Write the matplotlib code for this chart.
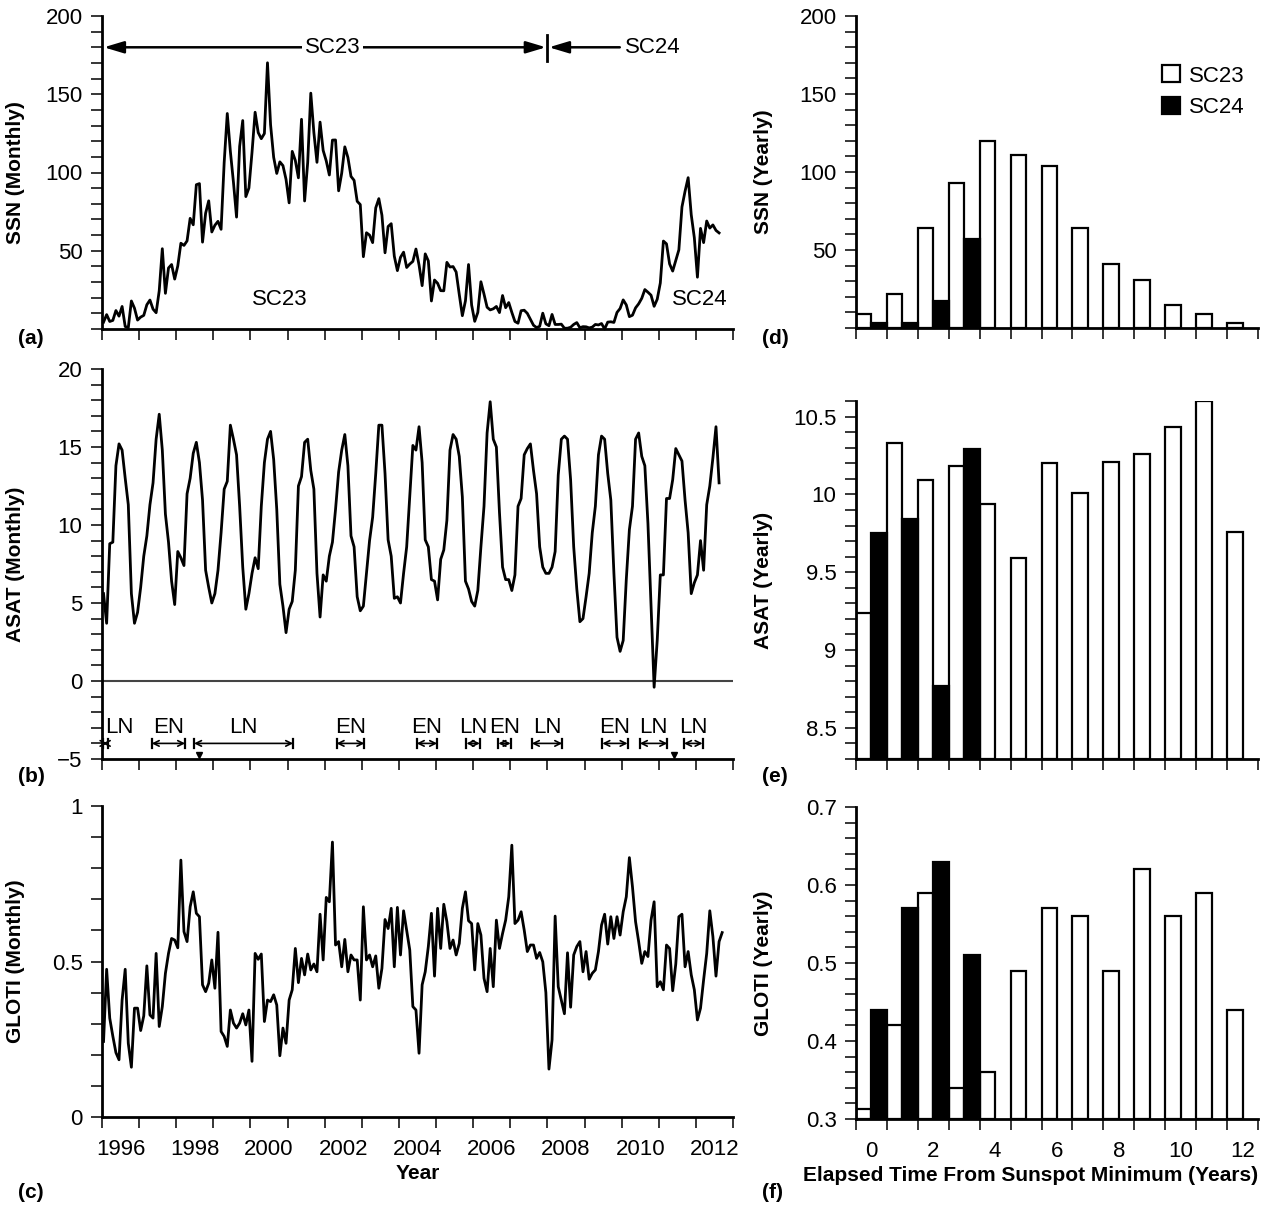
import matplotlib
matplotlib.use('Agg')
import matplotlib.pyplot as plt
from matplotlib import font_manager
from matplotlib.ticker import MultipleLocator
from matplotlib.patches import Patch
import numpy as np

installed = {f.name for f in font_manager.fontManager.ttflist}
if 'Liberation Sans Narrow' in installed:
    plt.rcParams['font.family'] = ['Liberation Sans Narrow', 'DejaVu Sans']
    FS, FSL = 17, 17
else:
    plt.rcParams['font.family'] = ['Liberation Sans', 'DejaVu Sans']
    FS, FSL = 16, 15

# ---- monthly series (from Feb 1996) ----
ssn_monthly = [
    4.4, 9.2, 4.8, 5.5, 11.8, 8.2, 14.4, 1.6, 0.9, 17.9, 13.3,
    5.7, 7.6, 8.7, 15.5, 18.5, 12.7, 10.4, 24.4, 51.3, 22.8, 39.0, 41.2,
    31.9, 40.3, 54.8, 53.4, 56.3, 70.7, 66.6, 92.2, 92.9, 55.5, 74.0, 81.9,
    62.0, 66.3, 68.8, 63.7, 106.4, 137.7, 113.5, 93.7, 71.5, 116.7, 133.2, 84.6,
    90.1, 112.9, 138.5, 125.5, 121.6, 124.9, 170.1, 130.5, 109.7, 99.4, 106.8, 104.4,
    95.6, 80.6, 113.5, 107.7, 96.6, 134.0, 81.8, 106.4, 150.7, 125.5, 106.5, 132.2,
    114.1, 107.4, 98.4, 120.7, 120.8, 88.3, 99.6, 116.4, 109.6, 97.5, 95.0, 81.6,
    79.5, 46.2, 61.5, 60.0, 55.2, 77.4, 83.3, 72.7, 48.7, 65.5, 67.3, 46.5,
    37.3, 45.8, 49.1, 39.3, 41.5, 43.2, 51.1, 40.9, 27.7, 48.0, 43.5, 17.9,
    31.3, 29.2, 24.5, 24.4, 42.6, 39.6, 39.9, 36.4, 22.1, 8.5, 18.0, 41.2,
    15.3, 4.9, 10.6, 30.2, 22.3, 13.9, 12.2, 12.9, 14.4, 10.5, 21.4, 13.6,
    16.9, 10.6, 4.8, 3.7, 11.7, 12.0, 10.0, 6.2, 2.4, 0.9, 1.7, 10.1,
    3.3, 2.1, 9.3, 2.9, 2.9, 3.1, 0.5, 0.5, 1.1, 2.9, 4.1, 0.8,
    1.5, 1.4, 0.7, 1.2, 2.9, 2.6, 3.5, 0.0, 4.4, 4.6, 4.2, 10.6,
    13.1, 18.6, 15.4, 7.9, 8.8, 13.5, 16.1, 19.6, 25.2, 23.5, 21.6, 14.5,
    19.0, 29.4, 56.2, 54.4, 41.6, 37.0, 43.9, 50.6, 78.0, 88.0, 96.7, 73.0,
    58.3, 33.1, 64.3, 55.2, 69.0, 64.5, 66.5, 63.0, 61.4,
]

asat_monthly = [
    5.6, 3.7, 8.8, 8.9, 13.8, 15.2, 14.8, 13.0, 11.3, 5.6, 3.7, 4.4,
    6.0, 8.0, 9.3, 11.3, 12.7, 15.5, 17.1, 14.8, 10.7, 8.9, 6.4, 4.9,
    8.3, 7.9, 7.4, 12.0, 13.0, 14.6, 15.3, 14.0, 11.6, 7.1, 6.0, 5.0,
    5.6, 7.1, 9.5, 12.3, 12.8, 16.4, 15.5, 14.5, 11.2, 7.3, 4.6, 5.6,
    6.9, 7.9, 7.2, 11.2, 14.0, 15.5, 16.0, 14.2, 11.0, 6.2, 4.8, 3.1,
    4.6, 5.1, 7.1, 12.5, 13.1, 15.3, 15.5, 13.5, 12.3, 6.9, 4.1, 6.8,
    6.4, 8.0, 8.9, 11.0, 13.4, 14.8, 15.8, 13.8, 9.3, 8.6, 5.4, 4.5,
    4.8, 6.9, 9.0, 10.5, 13.3, 16.4, 16.4, 13.3, 9.05, 8.0, 5.3, 5.4,
    5.0, 6.9, 8.6, 11.8, 15.1, 14.8, 16.3, 14.0, 9.05, 8.6, 6.5, 6.4,
    5.2, 7.8, 8.4, 10.3, 14.8, 15.8, 15.5, 14.4, 11.8, 6.4, 5.9, 5.1,
    4.8, 5.8, 8.6, 11.2, 15.9, 17.9, 15.5, 15.0, 10.8, 7.3, 6.5, 6.5,
    5.8, 6.8, 11.2, 11.7, 14.5, 14.9, 15.2, 13.5, 12.0, 8.6, 7.3, 6.9,
    6.9, 7.3, 8.3, 13.2, 15.5, 15.7, 15.5, 12.9, 8.6, 5.9, 3.8, 4.0,
    5.4, 6.9, 9.5, 11.2, 14.5, 15.7, 15.5, 13.3, 11.6, 6.9, 2.8, 1.9,
    2.6, 6.5, 9.7, 11.2, 15.5, 15.9, 14.4, 13.8, 10.1, 4.8, -0.4, 2.6,
    6.8, 6.8, 11.7, 11.7, 12.9, 14.9, 14.5, 14.1, 11.6, 9.5, 5.6, 6.3,
    6.8, 9.0, 7.1, 11.3, 12.5, 14.3, 16.3, 12.7,
]

gloti_monthly = [
    0.243, 0.475, 0.318, 0.26, 0.207, 0.184, 0.376, 0.475, 0.237, 0.16, 0.35, 0.35,
    0.278, 0.325, 0.486, 0.328, 0.318, 0.526, 0.291, 0.355, 0.462, 0.526, 0.574, 0.569,
    0.544, 0.826, 0.596, 0.564, 0.676, 0.724, 0.655, 0.644, 0.425, 0.403, 0.430, 0.505,
    0.414, 0.594, 0.275, 0.259, 0.227, 0.344, 0.302, 0.286, 0.302, 0.332, 0.296, 0.344,
    0.179, 0.526, 0.507, 0.524, 0.307, 0.376, 0.371, 0.393, 0.360, 0.197, 0.286, 0.237,
    0.376, 0.409, 0.542, 0.432, 0.510, 0.457, 0.524, 0.473, 0.492, 0.467, 0.652, 0.505,
    0.706, 0.692, 0.884, 0.553, 0.564, 0.483, 0.571, 0.467, 0.521, 0.505, 0.505, 0.376,
    0.676, 0.505, 0.521, 0.483, 0.518, 0.414, 0.478, 0.635, 0.606, 0.671, 0.483, 0.674,
    0.521, 0.663, 0.601, 0.537, 0.355, 0.344, 0.205, 0.425, 0.467, 0.548, 0.655, 0.453,
    0.671, 0.542, 0.684, 0.628, 0.542, 0.569, 0.521, 0.558, 0.671, 0.724, 0.631, 0.622,
    0.473, 0.622, 0.585, 0.446, 0.403, 0.542, 0.419, 0.633, 0.542, 0.590, 0.633, 0.708,
    0.874, 0.622, 0.633, 0.660, 0.601, 0.532, 0.553, 0.553, 0.510, 0.529, 0.499, 0.400,
    0.154, 0.248, 0.646, 0.419, 0.376, 0.332, 0.528, 0.353, 0.521, 0.548, 0.564, 0.467,
    0.532, 0.443, 0.462, 0.473, 0.532, 0.617, 0.652, 0.556, 0.644, 0.574, 0.644, 0.585,
    0.660, 0.708, 0.834, 0.740, 0.628, 0.564, 0.494, 0.532, 0.516, 0.633, 0.692, 0.419,
    0.435, 0.409, 0.553, 0.542, 0.406, 0.492, 0.644, 0.652, 0.483, 0.532, 0.457, 0.409,
    0.312, 0.350, 0.441, 0.526, 0.663, 0.580, 0.453, 0.564, 0.593,
]

year_labels = ['1996', '1998', '2000', '2002', '2004', '2006', '2008', '2010', '2012']

# ENSO episodes (type, start, end) in decimal years
enso_events = [
    ('LN', 1996.02, 1996.15), ('EN', 1997.34, 1998.24), ('LN', 1998.48, 2001.15),
    ('EN', 2002.32, 2003.07), ('EN', 2004.48, 2005.03), ('LN', 2005.82, 2006.18),
    ('EN', 2006.68, 2007.01), ('LN', 2007.58, 2008.40), ('EN', 2009.48, 2010.16),
    ('LN', 2010.49, 2011.23), ('LN', 2011.68, 2012.18),
]
enso_marks = [1998.6, 2011.41]
cycle_boundary = 2008.0

# ---- yearly values vs elapsed time from sunspot minimum ----
elapsed_sc23 = list(range(13))
elapsed_sc24 = list(range(4))
ssn_sc23 = [9, 22, 64, 93, 120, 111, 104, 64, 41, 31, 15, 9, 3]
ssn_sc24 = [3, 3, 17, 57]
asat_sc23 = [9.24, 10.33, 10.09, 10.18, 9.94, 9.59, 10.20, 10.01, 10.21, 10.26, 10.43, 10.60, 9.76]
asat_sc24 = [9.75, 9.84, 8.77, 10.29]
gloti_sc23 = [0.313, 0.42, 0.59, 0.34, 0.36, 0.49, 0.57, 0.56, 0.49, 0.62, 0.56, 0.59, 0.44]
gloti_sc24 = [0.44, 0.57, 0.63, 0.51]

W, H = 1263, 1208
fig = plt.figure(figsize=(W / 100, H / 100), dpi=100)


def px_axes(x0, y0, x1, y1):
    return fig.add_axes([x0 / W, 1 - y1 / H, (x1 - x0) / W, (y1 - y0) / H])


ax_a = px_axes(102, 16, 733, 329)
ax_b = px_axes(102, 369, 733, 759)
ax_c = px_axes(102, 806, 733, 1117)
ax_d = px_axes(856, 16, 1258, 328)
ax_e = px_axes(856, 401, 1258, 759)
ax_f = px_axes(856, 807, 1258, 1119)


def fmt(v):
    return ('%g' % v).replace('-', '\u2212')


def style(ax, yticks, ylim, minor):
    for s in ['top', 'right']:
        ax.spines[s].set_visible(False)
    for s in ['left', 'bottom']:
        ax.spines[s].set_linewidth(2.0)
    ax.set_ylim(*ylim)
    ax.set_yticks(yticks, [fmt(v) for v in yticks])
    ax.yaxis.set_minor_locator(MultipleLocator(minor))
    ax.tick_params(axis='y', which='both', direction='out', length=8, width=1.1,
                   labelsize=FS, pad=6)


# ---- left column: monthly time series ----
left_axes = [ax_a, ax_b, ax_c]
series = [ssn_monthly, asat_monthly, gloti_monthly]
for ax, s in zip(left_axes, series):
    x = 1996 + (np.arange(len(s)) + 0.5) / 12
    ax.plot(x, s, color='black', lw=2.0, clip_on=False, zorder=3)
    ax.set_xlim(1996, 2013)
    ax.set_xticks(np.arange(1996, 2014))
    ax.set_xticklabels([])
    ax.tick_params(axis='x', which='major', direction='out', length=8, width=1.1)

style(ax_a, [50, 100, 150, 200], (0, 200), 10)
style(ax_b, [-5, 0, 5, 10, 15, 20], (-5, 20), 1)
style(ax_c, [0, 0.5, 1], (0, 1), 0.1)
ax_a.set_ylabel('SSN (Monthly)', fontsize=FSL, fontweight='bold')
ax_b.set_ylabel('ASAT (Monthly)', fontsize=FSL, fontweight='bold')
ax_c.set_ylabel('GLOTI (Monthly)', fontsize=FSL, fontweight='bold')
for ax in left_axes:
    ax.yaxis.set_label_coords(-0.122, 0.5)

ax_c.set_xticks([int(l) + 0.5 for l in year_labels], year_labels, minor=True)
ax_c.tick_params(axis='x', which='minor', length=0, labelsize=FS, pad=16)
ax_c.set_xlabel('Year', fontsize=FSL, fontweight='bold', labelpad=3)

# panel (a) annotations
y_arr = 180
ax_a.annotate('', xy=(1996.05, y_arr), xytext=(cycle_boundary - 0.04, y_arr),
              arrowprops=dict(arrowstyle='<|-|>,head_length=0.6,head_width=0.18',
                              lw=1.8, color='black', shrinkA=0, shrinkB=0, mutation_scale=20))
ax_a.text(2002.22, y_arr, 'SC23', ha='center', va='center', fontsize=FS, zorder=6,
          bbox=dict(fc='white', ec='none', pad=2))
ax_a.plot([cycle_boundary, cycle_boundary], [171, 188], color='black', lw=2.0)
ax_a.annotate('', xy=(cycle_boundary + 0.04, y_arr), xytext=(2009.95, y_arr),
              arrowprops=dict(arrowstyle='-|>,head_length=0.6,head_width=0.18',
                              lw=1.8, color='black', shrinkA=0, shrinkB=0, mutation_scale=20))
ax_a.text(2010.1, y_arr, 'SC24', ha='left', va='center', fontsize=FS)
ax_a.text(2000.8, 19, 'SC23', ha='center', va='center', fontsize=FS)
ax_a.text(2012.1, 19, 'SC24', ha='center', va='center', fontsize=FS)

# panel (b) zero line and ENSO episodes
ax_b.axhline(0, color='#444444', lw=1.5, zorder=1)
y_enso = -4.0
for kind, x0, x1 in enso_events:
    ax_b.annotate('', xy=(x0, y_enso), xytext=(x1, y_enso),
                  arrowprops=dict(arrowstyle='<->,head_length=0.4,head_width=0.2',
                                  lw=1.2, color='black', shrinkA=0, shrinkB=0, mutation_scale=10))
    ax_b.plot([x0, x0], [y_enso - 0.28, y_enso + 0.28], color='black', lw=1.6)
    ax_b.plot([x1, x1], [y_enso - 0.28, y_enso + 0.28], color='black', lw=1.6)
    if x0 <= 1996.05:
        ax_b.text(x0 + 0.06, -2.95, kind, ha='left', va='center', fontsize=FS)
    else:
        ax_b.text((x0 + x1) / 2, -2.95, kind, ha='center', va='center', fontsize=FS)
ax_b.plot(enso_marks, [-4.72] * len(enso_marks), 'v', color='black', ms=5)

# ---- right column: yearly bars ----
right_axes = [ax_d, ax_e, ax_f]
sc23_vals = [ssn_sc23, asat_sc23, gloti_sc23]
sc24_vals = [ssn_sc24, asat_sc24, gloti_sc24]
bases = [0, 8.3, 0.3]
style(ax_d, [50, 100, 150, 200], (0, 200), 10)
style(ax_e, [8.5, 9, 9.5, 10, 10.5], (8.3, 10.6), 0.1)
style(ax_f, [0.3, 0.4, 0.5, 0.6, 0.7], (0.3, 0.7), 0.02)
for ax, v23, v24, b in zip(right_axes, sc23_vals, sc24_vals, bases):
    ax.bar(elapsed_sc23, np.array(v23) - b, bottom=b, width=-0.5, align='edge',
           facecolor='white', edgecolor='black', lw=1.6, zorder=2)
    ax.bar(elapsed_sc24, np.array(v24) - b, bottom=b, width=0.5, align='edge',
           facecolor='black', edgecolor='black', lw=1.6, zorder=2)
    ax.set_xlim(-0.5, 12.5)
    ax.set_xticks(np.arange(-0.5, 13, 1))
    ax.set_xticklabels([])
    ax.tick_params(axis='x', which='major', direction='out', length=8, width=1.1)
    ax.yaxis.set_label_coords(-0.206, 0.5)

ax_d.set_ylabel('SSN (Yearly)', fontsize=FSL, fontweight='bold')
ax_e.set_ylabel('ASAT (Yearly)', fontsize=FSL, fontweight='bold')
ax_f.set_ylabel('GLOTI (Yearly)', fontsize=FSL, fontweight='bold')
ax_f.set_xticks(np.arange(0, 13, 2), [str(v) for v in range(0, 13, 2)], minor=True)
ax_f.tick_params(axis='x', which='minor', length=0, labelsize=FS, pad=16)
ax_f.set_xlabel('Elapsed Time From Sunspot Minimum (Years)', fontsize=FSL,
                fontweight='bold', loc='right', labelpad=3)

handles = [Patch(facecolor='white', edgecolor='black', lw=1.6, label='SC23'),
           Patch(facecolor='black', edgecolor='black', lw=1.6, label='SC24')]
ax_d.legend(handles=handles, loc='upper left', bbox_to_anchor=(0.74, 0.87), frameon=False,
            fontsize=FS, handlelength=0.8, handleheight=0.8, handletextpad=0.4,
            labelspacing=0.45, borderaxespad=0)

# panel letters
for lab, xp, yp in [('(a)', 18, 338), ('(b)', 18, 777), ('(c)', 18, 1193),
                    ('(d)', 762, 338), ('(e)', 762, 777), ('(f)', 762, 1193)]:
    fig.text(xp / W, 1 - yp / H, lab, ha='left', va='center', fontsize=FSL,
             fontweight='bold')

fig.savefig('out.png', dpi=100)
